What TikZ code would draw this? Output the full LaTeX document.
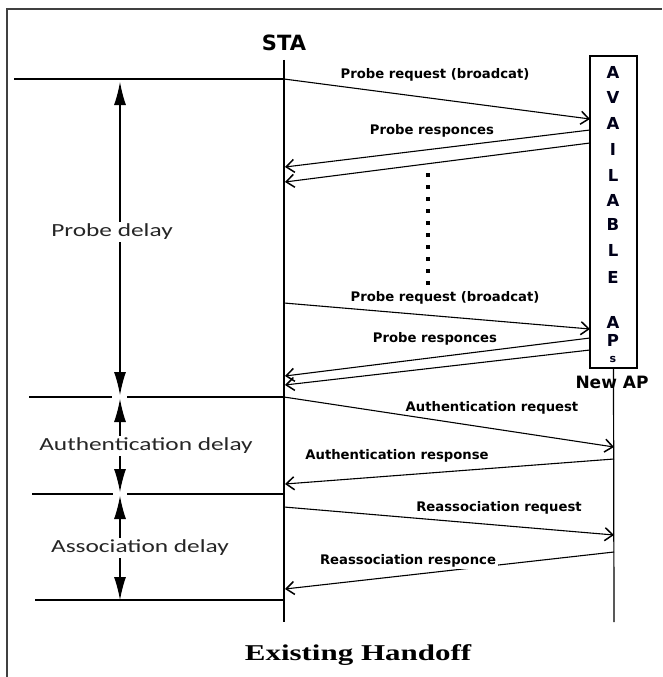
\documentclass[tikz,border=0pt]{standalone}
\usepackage{fontspec}
\setmainfont{Carlito}[FakeStretch=1.37]
\newfontfamily\labelfont{DejaVu Sans}
\newfontfamily\titlefont{Liberation Serif}[FakeStretch=1.37]
\usetikzlibrary{arrows.meta, positioning}

\begin{document}
\begin{tikzpicture}[x=1pt, y=-1pt]
        % Setup the styles for the lines and labels
        \tikzset{lifeline/.style={line width=1.2pt},
                 tick/.style={line width=1.2pt},
                 msg/.style={line width=1.1pt,
                             -{Straight Barb[length=8pt,width=13pt,line width=1.5pt]}},
                 delay/.style={line width=1.1pt,
                               {Latex[length=23pt,width=12pt]}-{Latex[length=23pt,width=12pt]}},
                 msglabel/.style={inner sep=1pt,
                                  font=\labelfont\fontsize{13.2}{15}\selectfont\bfseries},
                 delaylabel/.style={fill=white, inner sep=2pt, text=black!85,
                                    font=\fontsize{18.5}{20}\selectfont},
                 head/.style={font=\labelfont\fontsize{#1}{#1}\selectfont\bfseries},
                 apbox/.style={draw, line width=1.2pt, minimum width=47pt,
                               minimum height=312pt, inner sep=0pt},
                 apletter/.style={font=\labelfont\fontsize{16.5}{16.5}\selectfont\bfseries,
                                  text=black!90!blue, inner sep=0pt}}

        \useasboundingbox (0,0) rectangle (662,677);
        \draw[line width=1.6pt, black!75] (7,677) -- (7,9) -- (662,9);

        % Draw the heads and the box of APs
        \node[head=21] at (284,43)     (sta)   {STA};
        \node[apbox]   at (613.5,212)  (aps)   {};
        \node[head=17] at (612,382)    (newap) {New AP};
        \foreach \ch/\y [count=\i] in {A/72, V/97, A/123, I/149, L/175, A/200,
                                       B/224, L/250, E/277, A/322, P/340}
            \node[apletter] at (613,\y) (l\i) {\ch};
        \node[apletter, font=\labelfont\fontsize{11}{11}\selectfont\bfseries] at (613,359) (l12) {s};

        % Points on the lifelines
        \coordinate (staTop) at (284,60);
        \coordinate (staEnd) at (284,622);
        \coordinate (apEnd)  at (614,622);
        \coordinate (s1) at (284,79);   \coordinate (a1) at (590,119);
        \coordinate (a2) at (590,130);  \coordinate (s2) at (285,167);
        \coordinate (a3) at (590,143);  \coordinate (s3) at (285,182);
        \coordinate (s4) at (284,303);  \coordinate (a4) at (590,329);
        \coordinate (a5) at (590,338);  \coordinate (s5) at (285,376);
        \coordinate (a6) at (590,350);  \coordinate (s6) at (285,385);
        \coordinate (s7) at (284,397);  \coordinate (n7) at (614,447);
        \coordinate (n8) at (614,459);  \coordinate (s8) at (285,484);
        \coordinate (s9) at (284,507);  \coordinate (n9) at (614,535);
        \coordinate (n10) at (614,552); \coordinate (s10) at (285,589);
        \coordinate (dotTop) at (428,173);
        \coordinate (dotEnd) at (428,292);

        \draw[lifeline] (staTop) -- (staEnd);
        \draw[lifeline] (aps.south) -- (apEnd);

        % Connect the lifelines with the messages
        \draw[msg] (s1) -- (a1);
        \draw[msg] (a2) -- (s2);
        \draw[msg] (a3) -- (s3);
        \draw[line width=3.5pt, dash pattern=on 3.5pt off 8.5pt] (dotTop) -- (dotEnd);
        \draw[msg] (s4) -- (a4);
        \draw[msg] (a5) -- (s5);
        \draw[msg] (a6) -- (s6);
        \draw[msg] (s7) -- (n7);
        \draw[msg] (n8) -- (s8);
        \draw[msg] (s9) -- (n9);
        \draw[msg] (n10) -- (s10);

        \node[msglabel] at (435,75)  (req1)  {Probe request (broadcat)};
        \node[msglabel] at (432,131) (resp1) {Probe responces};
        \node[msglabel] at (445,298) (req2)  {Probe request (broadcat)};
        \node[msglabel] at (435,339) (resp2) {Probe responces};
        \node[msglabel] at (492,408) (authreq)  {Authentication request};
        \node[msglabel] at (397,456) (authresp) {Authentication response};
        \node[msglabel] at (499,508) (assreq)   {Reassociation request};
        \node[msglabel, fill=white, inner sep=2pt] at (408,561) (assresp) {Reassociation responce};

        % Draw the delay marks
        \coordinate (h1) at (14,79);
        \coordinate (h2) at (29,397);
        \coordinate (h3) at (32,494);
        \coordinate (h4) at (35,600);
        \coordinate (s11) at (284,494);
        \coordinate (s12) at (284,600);
        \draw[tick] (h1) -- (s1);
        \draw[tick] (h2) -- (112,397) (127,397) -- (s7);
        \draw[tick] (h3) -- (113,494) (127,494) -- (s11);
        \draw[tick] (h4) -- (s12);

        \coordinate (pdTop) at (120,82);  \coordinate (pdEnd) at (120,395);
        \coordinate (adTop) at (120,399); \coordinate (adEnd) at (120,492);
        \coordinate (sdTop) at (120,496); \coordinate (sdEnd) at (120,600);
        \draw[delay] (pdTop) -- (pdEnd);
        \draw[delay] (adTop) -- (adEnd);
        \draw[delay] (sdTop) -- (sdEnd);

        \node[delaylabel] at (112,232) (probedelay) {Probe delay};
        \node[delaylabel] at (146,446) (authdelay)  {Authentication delay};
        \node[delaylabel] at (140,548) (assdelay)   {Association delay};

        % Caption
        \node[font=\titlefont\fontsize{22.6}{24}\selectfont\bfseries] at (358,655) (caption) {Existing Handoff};
\end{tikzpicture}
\end{document}
